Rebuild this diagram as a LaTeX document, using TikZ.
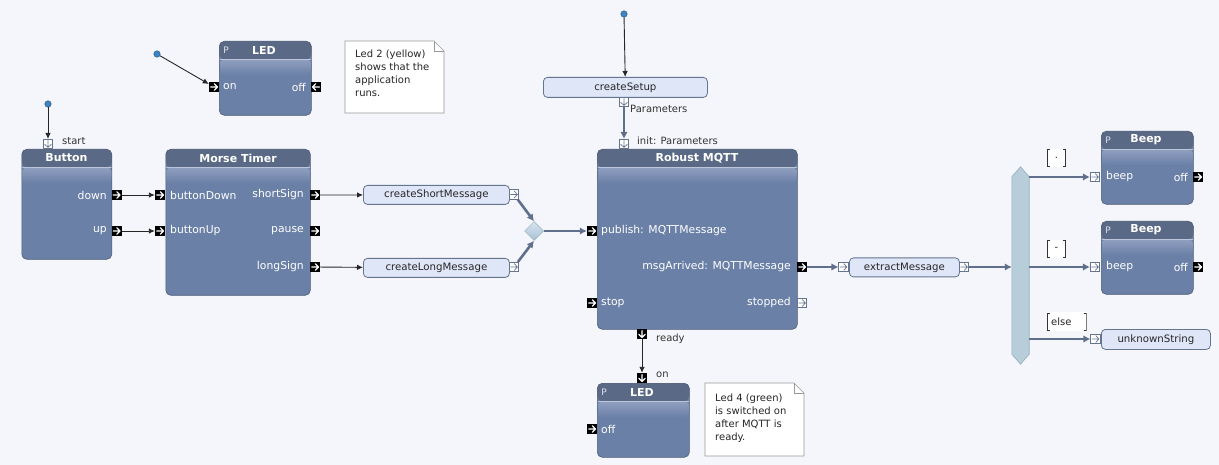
\documentclass[tikz,border=0pt]{standalone}
\usepackage{fontspec}
\setmainfont{DejaVu Sans}
\usetikzlibrary{arrows.meta,shapes.geometric}

\definecolor{bgcol}{HTML}{F5F6FB}
\definecolor{headcol}{HTML}{5A6985}
\definecolor{bodycol}{HTML}{6A80A6}
\definecolor{glosscol}{HTML}{909FC0}
\definecolor{edgecol}{HTML}{4F5D78}
\definecolor{actfill}{HTML}{DFE6F7}
\definecolor{actline}{HTML}{66758F}
\definecolor{flowcol}{HTML}{5F6F8C}
\definecolor{dotcol}{HTML}{3A85C6}
\definecolor{barfill}{HTML}{B7CDDA}
\definecolor{barline}{HTML}{93AEBE}
\definecolor{mergetop}{HTML}{D8E5F0}
\definecolor{mergebot}{HTML}{A8C0D3}

\tikzset{
  glyph/.style n args={3}{path picture={\draw[#2,line width=#3,line cap=round,line join=round,
      shift={(path picture bounding box.center)}]
      ({#1+180}:3.4pt) -- ({#1}:3.4pt) ({#1+84}:3.3pt) -- ({#1}:3.4pt) -- ({#1-84}:3.3pt);}},
  evport/.style={rectangle,fill=black,minimum size=10pt,inner sep=0pt,glyph={#1}{white}{1.2pt}},
  pin/.style={rectangle,fill=white,draw=actline,line width=.6pt,minimum size=9.5pt,inner sep=0pt,glyph={#1}{actline}{.7pt}},
  block/.style={rectangle,rounded corners=5pt,draw=edgecol,line width=.6pt,fill=bodycol,anchor=north west,inner sep=0pt,
    path picture={
      \fill[headcol] (path picture bounding box.north west) rectangle ([yshift=-18pt]path picture bounding box.north east);
      \shade[top color=glosscol,bottom color=bodycol] ([yshift=-18pt]path picture bounding box.north west)
        rectangle ([yshift=-34pt]path picture bounding box.north east);
      \draw[glosscol!60!white,line width=.5pt] ([yshift=-18.3pt]path picture bounding box.north west)
        -- ([yshift=-18.3pt]path picture bounding box.north east);}},
  btitle/.style={text=white,font=\bfseries\fontsize{11}{12}\selectfont,inner sep=0pt},
  ptag/.style={text=white!80!bodycol,font=\fontsize{9}{10}\selectfont,inner sep=0pt},
  plab/.style={text=white,font=\fontsize{10.8}{12}\selectfont,inner sep=0pt},
  act/.style={rectangle,rounded corners=4pt,draw=actline,line width=.8pt,fill=actfill,anchor=north west,
    inner sep=0pt,minimum height=19pt,text=black!85,font=\fontsize{10.2}{12}\selectfont},
  txt/.style={text=black!80,font=\fontsize{10}{12}\selectfont,inner sep=0pt,anchor=west},
  notebox/.style={draw=black!40,fill=white,line width=.6pt},
  notetxt/.style={text=black!85,font=\fontsize{10}{13}\selectfont,align=left,anchor=north west,inner sep=0pt},
  guard/.style={fill=white,inner xsep=4pt,inner ysep=0pt,minimum height=18pt,text=black!85,font=\fontsize{10}{12}\selectfont,
    path picture={\draw[black!80,line width=.7pt]
      ([shift={(3pt,-.5pt)}]path picture bounding box.north west) -- ([shift={(.5pt,-.5pt)}]path picture bounding box.north west)
      -- ([shift={(.5pt,.5pt)}]path picture bounding box.south west) -- ([shift={(3pt,.5pt)}]path picture bounding box.south west)
      ([shift={(-3pt,-.5pt)}]path picture bounding box.north east) -- ([shift={(-.5pt,-.5pt)}]path picture bounding box.north east)
      -- ([shift={(-.5pt,.5pt)}]path picture bounding box.south east) -- ([shift={(-3pt,.5pt)}]path picture bounding box.south east);}},
  dot/.style={circle,fill=dotcol,draw=dotcol!60!black,line width=.4pt,minimum size=6.5pt,inner sep=0pt},
  sig/.style={draw=black!85,line width=.9pt,-{Latex[length=6pt,width=5.5pt]}},
  flow/.style={draw=flowcol,line width=2.6pt,-{Latex[length=7pt,width=7.5pt]}},
  merge/.style={diamond,draw=barline,line width=.5pt,top color=mergetop,bottom color=mergebot,minimum size=19pt,inner sep=0pt},
  decision/.style={rectangle,minimum width=17pt,minimum height=197pt,inner sep=0pt}
}

\begin{document}
\begin{tikzpicture}[x=1pt,y=-1pt]
\fill[bgcol] (0,0) rectangle (1219,465);
\useasboundingbox (0,0) rectangle (1219,465);

\node[block,minimum width=90pt,minimum height=110pt] (button) at (21.5,149) {};
\node[btitle] (button-t) at (66.5,158) {Button};
\node[plab,anchor=east] (button-dl) at (107,195) {down};
\node[plab,anchor=east] (button-ul) at (107,231) {up};
\node[evport=0] (button-down) at (116.5,195) {};
\node[evport=0] (button-up) at (116.5,231) {};
\node[pin=-90] (button-start) at (48,144) {};
\node[txt] (start-l) at (62,141) {start};
\node[dot] (init-button) at (48,104) {};

\node[block,minimum width=144.5pt,minimum height=146pt] (timer) at (165.5,149) {};
\node[btitle] (timer-t) at (238,158) {Morse Timer};
\node[plab,anchor=west] (timer-bdl) at (170,195) {buttonDown};
\node[plab,anchor=west] (timer-bul) at (170,231) {buttonUp};
\node[plab,anchor=east] (timer-sl) at (304,195) {shortSign};
\node[plab,anchor=east] (timer-pl) at (304,231) {pause};
\node[plab,anchor=east] (timer-ll) at (304,267) {longSign};
\node[evport=0] (timer-bdown) at (160,195) {};
\node[evport=0] (timer-bup) at (160,231) {};
\node[evport=0] (timer-short) at (315,195) {};
\node[evport=0] (timer-pause) at (315,231) {};
\node[evport=0] (timer-long) at (315,267) {};

\node[block,minimum width=92pt,minimum height=74pt] (led1) at (219,41) {};
\node[ptag] (led1-p) at (226,50) {P};
\node[btitle] (led1-t) at (264,50) {LED};
\node[plab,anchor=west] (led1-onl) at (223,87) {on};
\node[plab,anchor=east] (led1-offl) at (306,87) {off};
\node[evport=0] (led1-on) at (214,87) {};
\node[evport=180] (led1-off) at (316,87) {};
\node[dot] (init-led) at (157,54) {};

\draw[notebox] (345,41) -- (434,41) -- (444,51) -- (444,113) -- (345,113) -- cycle;
\draw[notebox,fill=none] (434,41) -- (434,51) -- (444,51);
\node[notetxt] (note1) at (355,50) {Led 2 (yellow)\\shows that the\\application\\runs.};

\node[act,minimum width=164pt,minimum height=20pt] (setup) at (543,77) {createSetup};
\node[pin=-90] (setup-out) at (624,102) {};
\node[txt] (setup-l) at (630,109) {Parameters};
\node[dot] (init-setup) at (624,14) {};

\node[act,minimum width=146pt] (shortmsg) at (363,185) {createShortMessage};
\node[act,minimum width=146pt] (longmsg) at (363,258) {createLongMessage};
\node[pin=0] (short-out) at (514,194.5) {};
\node[pin=0] (long-out) at (514,267) {};
\node[merge] (merge) at (534,231) {};

\node[block,minimum width=200pt,minimum height=180pt] (mqtt) at (597,149) {};
\node[btitle] (mqtt-t) at (697,158) {Robust MQTT};
\node[pin=-90] (mqtt-init) at (624,144) {};
\node[txt] (mqtt-initl) at (637,141) {init: Parameters};
\node[plab,anchor=west] (mqtt-publ) at (601,231) {publish: MQTTMessage};
\node[plab,anchor=east] (mqtt-msgl) at (791,267) {msgArrived: MQTTMessage};
\node[plab,anchor=west] (mqtt-stopl) at (601,303) {stop};
\node[plab,anchor=east] (mqtt-stoppedl) at (791,303) {stopped};
\node[evport=0] (mqtt-pub) at (592,231) {};
\node[evport=0] (mqtt-msg) at (802,267) {};
\node[evport=0] (mqtt-stop) at (592,303) {};
\node[pin=0] (mqtt-stopped) at (802,303) {};
\node[evport=-90] (mqtt-ready) at (642,334) {};
\node[txt] (ready-l) at (656,339) {ready};

\node[block,minimum width=92pt,minimum height=74pt] (led2) at (597,383) {};
\node[ptag] (led2-p) at (604,392) {P};
\node[btitle] (led2-t) at (642,392) {LED};
\node[plab,anchor=west] (led2-offl) at (601,429) {off};
\node[evport=-90] (led2-on) at (642,378) {};
\node[evport=0] (led2-off) at (592,429) {};
\node[txt] (on-l) at (656,375) {on};

\draw[notebox] (705,383) -- (794,383) -- (804,393) -- (804,456) -- (705,456) -- cycle;
\draw[notebox,fill=none] (794,383) -- (794,393) -- (804,393);
\node[notetxt] (note2) at (715,394) {Led 4 (green)\\is switched on\\after MQTT is\\ready.};

\node[act,minimum width=110pt] (extract) at (849,257.5) {extractMessage};
\node[pin=0] (extract-in) at (843.5,267) {};
\node[pin=0] (extract-out) at (964,267) {};

\node[decision] (bar) at (1020.5,265.5) {};
\filldraw[fill=barfill,draw=barline,line width=.6pt] (bar.north) -- ([yshift=-10pt]bar.north east)
  -- ([yshift=10pt]bar.south east) -- (bar.south) -- ([yshift=10pt]bar.south west)
  -- ([yshift=-10pt]bar.north west) -- cycle;

\node[block,minimum width=92pt,minimum height=73pt] (beep1) at (1101,131) {};
\node[ptag] (beep1-p) at (1108,140) {P};
\node[btitle] (beep1-t) at (1146,140) {Beep};
\node[plab,anchor=west] (beep1-bl) at (1106,177) {beep};
\node[plab,anchor=east] (beep1-ol) at (1188,177) {off};
\node[pin=0] (beep1-in) at (1095,177) {};
\node[evport=0] (beep1-off) at (1198,177) {};

\node[block,minimum width=92pt,minimum height=73pt] (beep2) at (1101,221) {};
\node[ptag] (beep2-p) at (1108,230) {P};
\node[btitle] (beep2-t) at (1146,230) {Beep};
\node[plab,anchor=west] (beep2-bl) at (1106,267) {beep};
\node[plab,anchor=east] (beep2-ol) at (1188,267) {off};
\node[pin=0] (beep2-in) at (1095,267) {};
\node[evport=0] (beep2-off) at (1198,267) {};

\node[act,minimum width=109pt,minimum height=20pt] (unknown) at (1101,329) {unknownString};
\node[pin=0] (unknown-in) at (1095.5,339) {};

\node[guard,minimum width=19pt] (g-dot) at (1056.5,158) {.};
\node[guard,minimum width=19pt] (g-dash) at (1056.5,249) {-};
\node[guard,anchor=west] (g-else) at (1047,321.5) {else\kern11pt};

\draw[sig] (init-button) -- (button-start);
\draw[sig] (init-led) -- (led1-on);
\draw[sig] (button-down) -- (timer-bdown);
\draw[sig] (button-up) -- (timer-bup);
\draw[sig] (timer-short) -- (shortmsg);
\draw[sig] (timer-long) -- (longmsg);
\draw[sig] (init-setup) -- (setup);
\draw[sig] (mqtt-ready) -- (led2-on);

\draw[flow] (short-out) -- (merge.north);
\draw[flow] (long-out) -- (merge.south);
\draw[flow] (merge) -- (mqtt-pub);
\draw[flow] (setup-out) -- (mqtt-init);
\draw[flow] (mqtt-msg) -- (extract-in);
\draw[flow] (extract-out) -- (bar.west |- extract-out);
\draw[flow] (bar.east |- beep1-in) -- (beep1-in);
\draw[flow] (bar.east |- beep2-in) -- (beep2-in);
\draw[flow] (bar.east |- unknown-in) -- (unknown-in);
\end{tikzpicture}
\end{document}
